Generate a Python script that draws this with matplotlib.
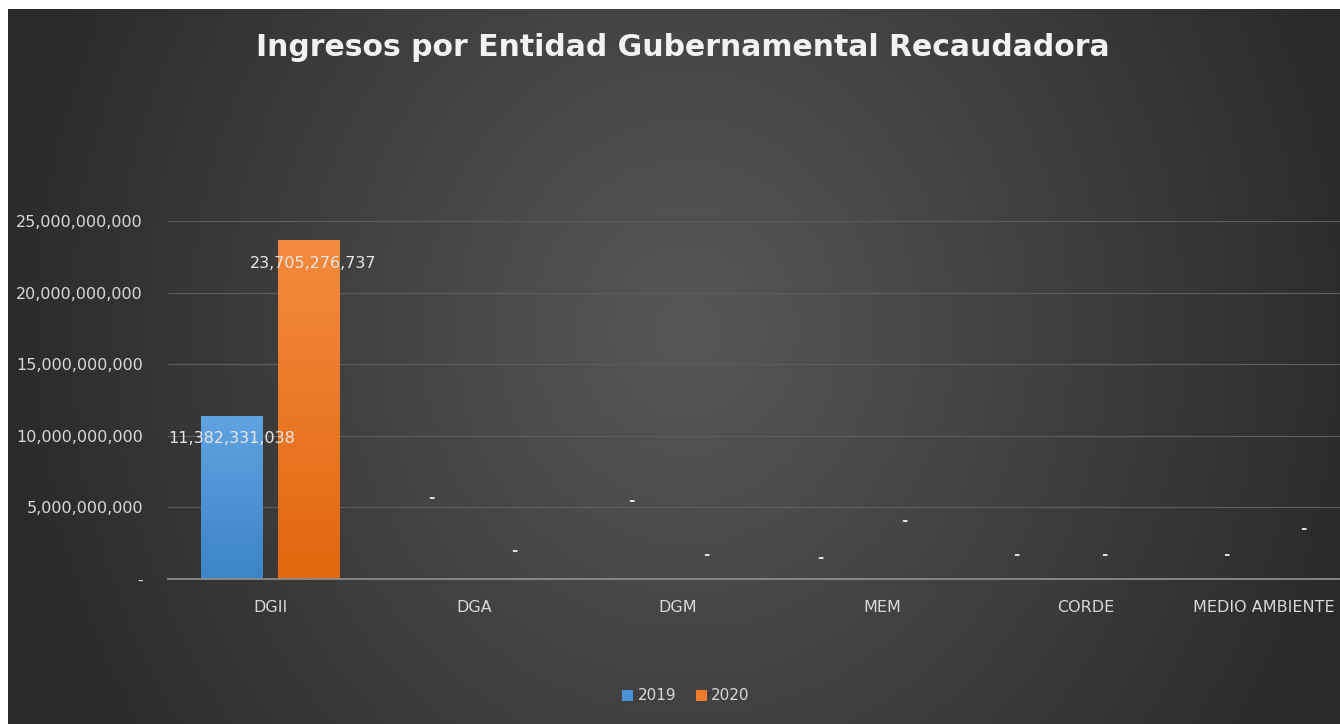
import matplotlib
matplotlib.use("Agg")
import matplotlib.pyplot as plt
import matplotlib.transforms as mtrans
from matplotlib.colors import LinearSegmentedColormap
from matplotlib.ticker import FuncFormatter
import numpy as np

plt.rcParams['font.family'] = ['DejaVu Sans']

categories = ["DGII", "DGA", "DGM", "MEM", "CORDE", "MEDIO AMBIENTE"]
years = ["2019", "2020"]
values_2019 = [11382331038, 0, 0, 0, 0, 0]
values_2020 = [23705276737, 0, 0, 0, 0, 0]
# where Excel left the "-" labels of the zero values (offset from category, height)
dash_dx_2019 = [0, -0.21, -0.23, -0.30, -0.34, -0.31]
dash_dx_2020 = [0, 0.20, 0.14, 0.11, 0.09, 0.065]
dash_y_2019 = [None, 5.66e9, 5.45e9, 1.47e9, 1.68e9, 1.68e9]
dash_y_2020 = [None, 2.0e9, 1.68e9, 4.12e9, 1.68e9, 3.56e9]
yticks = [0, 5e9, 10e9, 15e9, 20e9, 25e9]

W, H = 1340, 724
fig = plt.figure(figsize=(W / 100, H / 100), dpi=100)
fig.patch.set_facecolor("white")

# dark radial background
bg = fig.add_axes([8 / W, 0, 1 - 8 / W, 1 - 9 / H])
bg.axis("off")
gx, gy = np.meshgrid(np.linspace(-1, 1, 400), np.linspace(-1, 1, 220))
r = np.sqrt(((gx - 0.02) / 1.05) ** 2 + ((gy + 0.1) / 2.2) ** 2)
shade = np.clip(1 - r, 0, 1)
bg_cmap = LinearSegmentedColormap.from_list("bg", ["#2a2a2a", "#575757"])
bg.imshow(shade, cmap=bg_cmap, aspect="auto", extent=[0, 1, 0, 1], vmin=0, vmax=1)
bg.set_xlim(0, 1)
bg.set_ylim(0, 1)

ax = fig.add_axes([168 / W, 1 - 579 / H, 1 - 168 / W, (579 - 221) / H])
ax.patch.set_alpha(0)

x = np.arange(len(categories))
bw = 0.3
off = 0.19
b1 = ax.bar(x - off, values_2019, bw, color="#4a90d4", label=years[0], zorder=3)
b2 = ax.bar(x + off, values_2020, bw, color="#ee7a2a", label=years[1], zorder=3)

# vertical gradient inside the bars
grad = np.linspace(1, 0, 100).reshape(-1, 1)
for bars, c_top, c_bot in [(b1, "#60a2e2", "#3d85c6"), (b2, "#f48a3e", "#e2670f")]:
    cm = LinearSegmentedColormap.from_list("g", [c_bot, c_top])
    for p in bars:
        if p.get_height() <= 0:
            continue
        x0, w, h = p.get_x(), p.get_width(), p.get_height()
        im = ax.imshow(grad, cmap=cm, aspect="auto", extent=[x0, x0 + w, 0, h], zorder=3.5)
        im.set_clip_path(p)

ax.set_xlim(-0.5, 5.245)
ax.set_ylim(0, 25e9)
ax.set_yticks(yticks)
ax.yaxis.set_major_formatter(FuncFormatter(lambda v, p: "-" if v == 0 else f"{v:,.0f}"))
ax.grid(axis="y", color="#5c5c5c", lw=0.9, zorder=0)
ax.set_xticks(x)
ax.set_xticklabels(categories)
ax.tick_params(axis="both", length=0, colors="#d9d9d9", labelsize=11.5)
ax.tick_params(axis="y", pad=18)
ax.tick_params(axis="x", pad=15)
for s in ["top", "right", "left"]:
    ax.spines[s].set_visible(False)
ax.spines["bottom"].set_color("#8c8c8c")
ax.spines["bottom"].set_linewidth(1.3)
ax.spines["bottom"].set_zorder(4)

# last label pushed left to fit inside the chart
last = ax.get_xticklabels()[-1]
last.set_transform(last.get_transform() + mtrans.ScaledTranslation(-26 / 100, 0, fig.dpi_scale_trans))

# data labels
ax.text(x[0] - off, values_2019[0] - 1.55e9, f"{values_2019[0]:,}", ha="center", va="center",
        color="#e6e6e6", fontsize=11.5, zorder=5)
ax.text(x[0] + off + 0.02, values_2020[0] - 1.7e9, f"{values_2020[0]:,}", ha="center", va="center",
        color="#e6e6e6", fontsize=11.5, zorder=5)
for i in range(1, len(categories)):
    ax.text(x[i] + dash_dx_2019[i], dash_y_2019[i], "-", ha="center", va="center", color="#e0e0e0",
            fontsize=11, fontweight="bold")
    ax.text(x[i] + dash_dx_2020[i], dash_y_2020[i], "-", ha="center", va="center", color="#e0e0e0",
            fontsize=11, fontweight="bold")

fig.text(683 / W, 1 - 47 / H, "Ingresos por Entidad Gubernamental Recaudadora", ha="center", va="center",
         color="#f2f2f2", fontsize=21.5, fontweight="bold")

leg = fig.legend(handles=[b1, b2], loc="center", bbox_to_anchor=(686 / W, 1 - 696 / H), ncol=2,
                 frameon=False, fontsize=11, labelcolor="#d9d9d9", handlelength=0.7, handleheight=0.7,
                 handletextpad=0.3, columnspacing=1.3)

fig.savefig("out.png", dpi=100, facecolor=fig.get_facecolor())
